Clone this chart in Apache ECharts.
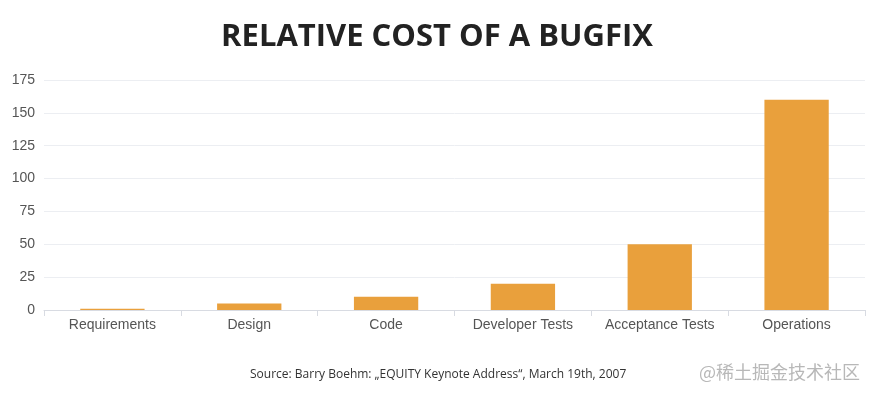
<!DOCTYPE html>
<html>
<head>
<meta charset="utf-8">
<script src="https://cdn.jsdelivr.net/npm/echarts@6/dist/echarts.min.js"></script>
<style>
  html, body { margin: 0; padding: 0; background: #fff; }
  #chart { width: 874px; height: 399px; }
</style>
</head>
<body>
<div id="chart"></div>
<script>
// 数据
var categories = ['Requirements', 'Design', 'Code', 'Developer Tests', 'Acceptance Tests', 'Operations'];
var costs = [1, 5, 10, 20, 50, 160];
var yTicks = { min: 0, max: 175, interval: 25 };

var myChart = echarts.init(document.getElementById('chart'));

var option = {
    backgroundColor: '#fff',
    title: {
        text: 'RELATIVE COST OF A BUGFIX',
        left: 'center',
        top: 17,
        textStyle: {
            fontFamily: 'Open Sans',
            fontWeight: 'bold',
            fontSize: 31,
            color: '#222'
        }
    },
    grid: {
        left: 44,
        right: 9,
        top: 80,
        bottom: 89
    },
    xAxis: {
        type: 'category',
        data: categories,
        axisLine: { lineStyle: { color: '#d8dbe2' } },
        axisTick: { show: true, interval: 0, lineStyle: { color: '#d8dbe2' }, length: 6 },
        axisLabel: {
            interval: 0,
            color: '#555',
            fontFamily: 'Liberation Sans',
            fontSize: 14,
            margin: 8
        }
    },
    yAxis: {
        type: 'value',
        min: yTicks.min,
        max: yTicks.max,
        interval: yTicks.interval,
        axisLine: { show: false },
        axisTick: { show: false },
        splitLine: { lineStyle: { color: '#eceef2' } },
        axisLabel: {
            color: '#555',
            fontFamily: 'Liberation Sans',
            fontSize: 14,
            margin: 9
        }
    },
    series: [{
        type: 'bar',
        data: costs,
        barWidth: '47%',
        itemStyle: { color: '#e9a03c' }
    }],
    graphic: [
        {
            type: 'text',
            left: 250,
            top: 369,
            style: {
                text: 'Source: Barry Boehm: „EQUITY Keynote Address“, March 19th, 2007',
                font: '12px "Open Sans"',
                fill: '#333'
            }
        },
        {
            type: 'text',
            left: 699,
            top: 363,
            style: {
                text: '@稀土掘金技术社区',
                font: '18px "Noto Sans CJK SC"',
                fill: '#b8b8b8'
            }
        }
    ]
};

myChart.setOption(option);
</script>
</body>
</html>
